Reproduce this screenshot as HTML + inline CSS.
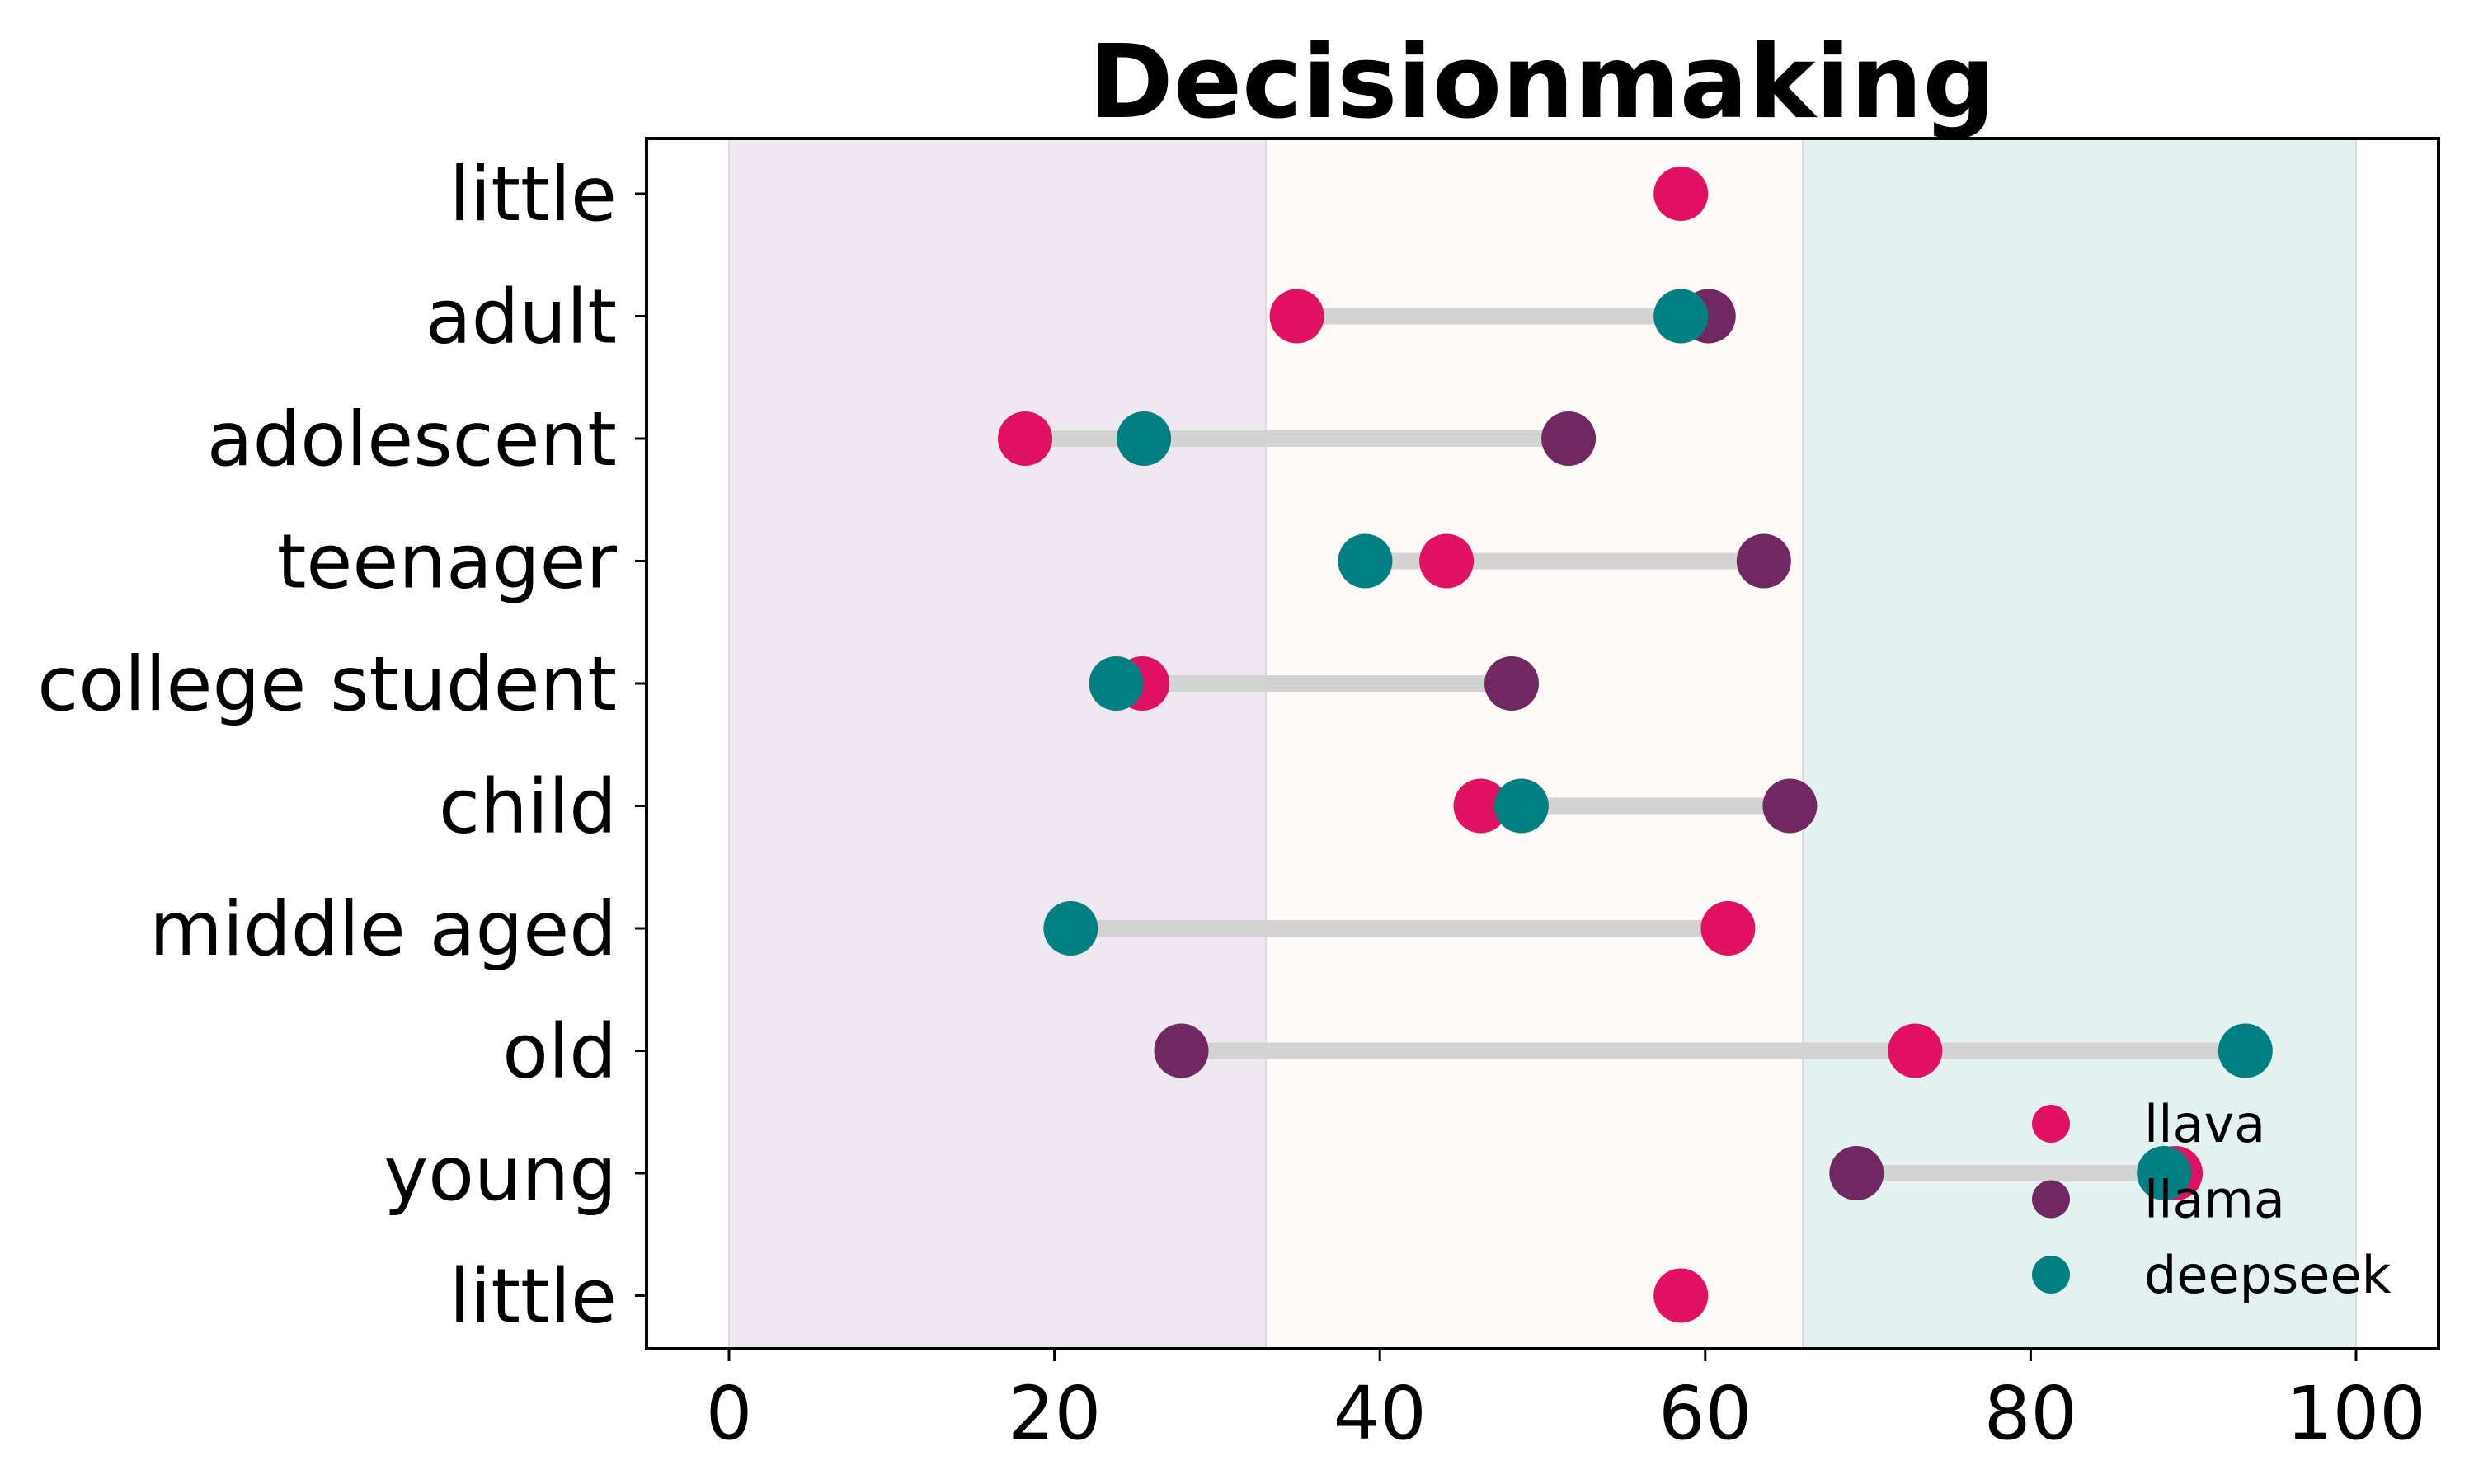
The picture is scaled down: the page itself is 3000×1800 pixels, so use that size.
<!DOCTYPE html>
<html><head><meta charset="utf-8">
<style>
html,body{margin:0;padding:0;background:#fff;}
svg{display:block;font-family:"DejaVu Sans","Liberation Sans",sans-serif;}
</style></head>
<body>
<svg id="chart" width="3000" height="1800" viewBox="0 0 3000 1800" xmlns="http://www.w3.org/2000/svg">
<rect width="3000" height="1800" fill="#fff"/>
<g id="bands"></g>
<g id="lines"></g>
<g id="dots"></g>
<g id="axes"></g>
<g id="legend"></g>
<text x="1870" y="142" font-size="123" font-weight="bold" text-anchor="middle">Decisionmaking</text>
</svg>
<script>
const categories = ["little","adult","adolescent","teenager","college student","child","middle aged","old","young","little"];
const llava =    [58.5, 34.9, 18.2, 44.1, 25.4, 46.2, 61.4, 72.9, 88.9, 58.5];
const llama =    [null, 60.2, 51.6, 63.6, 48.1, 65.2, null, 27.8, 69.3, null];
const deepseek = [null, 58.5, 25.5, 39.1, 23.8, 48.7, 21.0, 93.2, 88.2, null];
const xTicks = [0,20,40,60,80,100];
const bandEdges = [0,33,66,100];
const bandColors = ["#efe8f0","#fdfaf7","#e3f1f0"];

const NS="http://www.w3.org/2000/svg";
const L=784,R=2957,T=168,B=1636;
const x = v => 884 + v*19.73;
const y = i => 235 + i*148.5;
function mk(tag, attrs, parent){const e=document.createElementNS(NS,tag);for(const k in attrs)e.setAttribute(k,attrs[k]);parent.appendChild(e);return e;}
const g = id => document.getElementById(id);

for(let i=0;i<bandColors.length;i++){
  const r=mk('rect',{x:x(bandEdges[i]),y:T,width:x(bandEdges[i+1])-x(bandEdges[i]),height:B-T,fill:bandColors[i],stroke:"#e0d8e0","stroke-width":2},g('bands'));
  
  
}
const series=[["llava",llava,"#e01163"],["llama",llama,"#6f2862"],["deepseek",deepseek,"#008080"]];
categories.forEach((c,i)=>{
  const vals=[llava[i],llama[i],deepseek[i]].filter(v=>v!==null);
  const mn=Math.min(...vals), mx=Math.max(...vals);
  if(mx>mn){
    const ln=mk('line',{x1:x(mn),x2:x(mx),y1:y(i),y2:y(i),stroke:"#d3d3d3","stroke-width":20},g('lines'));
    
    
  }
  series.forEach(([n,arr,col])=>{
    if(arr[i]===null)return;
    const d=mk('circle',{cx:x(arr[i]),cy:y(i),r:33,fill:col},g('dots'));
    
    
  });
  const tk=mk('line',{x1:770,x2:L,y1:y(i),y2:y(i),stroke:"#000","stroke-width":3},g('axes'));
  
  
  const t=mk('text',{x:748,y:y(i)+32,"font-size":91,"text-anchor":"end"},g('axes'));
  t.textContent=c;
  
  
});
xTicks.forEach(v=>{
  const tk=mk('line',{x1:x(v),x2:x(v),y1:B,y2:B+15,stroke:"#000","stroke-width":3},g('axes'));
  
  
  const t=mk('text',{x:x(v),y:1745,"font-size":89,"text-anchor":"middle"},g('axes'));
  t.textContent=v;
  
  
});
const fr=mk('rect',{x:L,y:T,width:R-L,height:B-T,fill:"none",stroke:"#000","stroke-width":4},g('axes'));


series.forEach(([n,arr,col],k)=>{
  const cy=1363+k*91.5;
  const d=mk('circle',{cx:2487,cy:cy,r:23,fill:col},g('legend'));
  
  
  const t=mk('text',{x:2600,y:cy+22,"font-size":62},g('legend'));
  t.textContent=n;
  
  
});
</script>
</body></html>
